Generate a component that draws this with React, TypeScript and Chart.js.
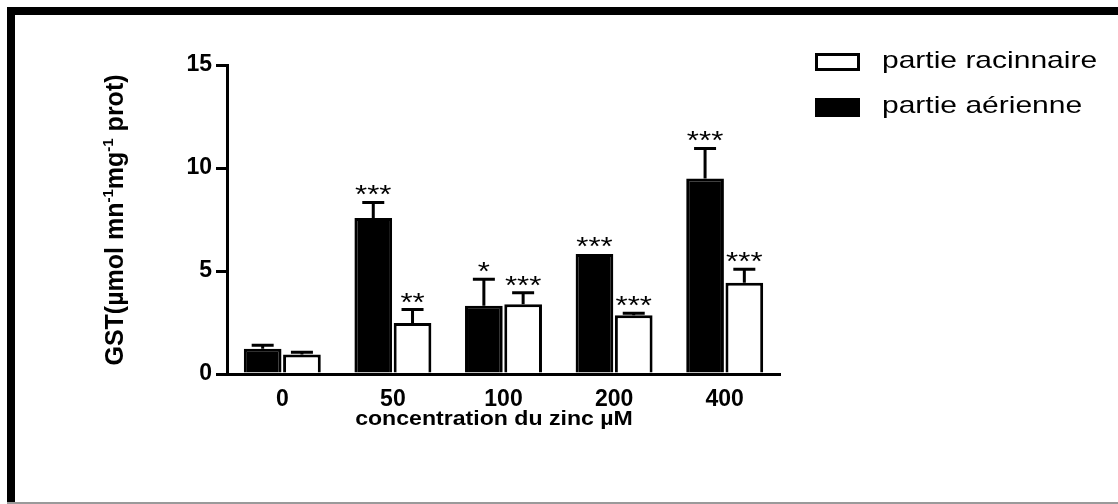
import React, { useEffect, useRef } from "react";
import { Chart, registerables } from "chart.js";

Chart.register(...registerables);

// ---- data ----
const categories = ["0", "50", "100", "200", "400"];
const aerienne = [1.23, 7.57, 3.31, 5.83, 9.49];
const aerienneErr = [0.16, 0.76, 1.29, 0, 1.46];
const racinnaire = [0.95, 2.48, 3.39, 2.85, 4.43];
const racinnaireErr = [0.11, 0.65, 0.55, 0.1, 0.65];
const aerienneStars = ["", "***", "*", "***", "***"];
const racinnaireStars = ["", "**", "***", "***", "***"];
const yTicks = [0, 5, 10, 15];
const legendLabels = ["partie racinnaire", "partie aérienne"];
const xTitle = "concentration du zinc µM";
const yTitleParts = ["GST(µmol mn", "-1", "mg", "-1", " prot)"];
const yTitleSup = [false, true, false, true, false];

const FONT = "'Liberation Sans', Arial, sans-serif";

const decorPlugin = {
  id: "decor",
  beforeDraw(chart: any) {
    const ctx = chart.ctx;
    ctx.save();
    ctx.fillStyle = "#000";
    ctx.fillRect(7, 7, 1111, 8);
    ctx.fillRect(7, 7, 8, 495);
    ctx.fillStyle = "#9a9a9a";
    ctx.fillRect(7, 502, 1111, 2);
    ctx.restore();
  },
  afterDatasetsDraw(chart: any) {
    const ctx = chart.ctx;
    const yScale = chart.scales.y;
    const series = [
      { vals: aerienne, errs: aerienneErr, stars: aerienneStars },
      { vals: racinnaire, errs: racinnaireErr, stars: racinnaireStars },
    ];
    ctx.save();
    series.forEach((s, i) => {
      const meta = chart.getDatasetMeta(i);
      meta.data.forEach((bar: any, j: number) => {
        const x = bar.x;
        const yTop = yScale.getPixelForValue(s.vals[j]);
        const yCap = yScale.getPixelForValue(s.vals[j] + s.errs[j]);
        if (s.errs[j] > 0) {
          ctx.strokeStyle = "#000";
          ctx.lineWidth = 3;
          ctx.beginPath();
          ctx.moveTo(x, yTop);
          ctx.lineTo(x, yCap);
          ctx.moveTo(x - 11, yCap);
          ctx.lineTo(x + 11, yCap);
          ctx.stroke();
        }
        if (s.stars[j]) {
          ctx.save();
          ctx.translate(x, yCap + 1);
          ctx.scale(1.2, 1);
          ctx.fillStyle = "#000";
          ctx.font = `26px ${FONT}`;
          ctx.textAlign = "center";
          ctx.textBaseline = "alphabetic";
          ctx.fillText(s.stars[j], 0, 0);
          ctx.restore();
        }
      });
    });
    ctx.restore();
  },
  afterDraw(chart: any) {
    const ctx = chart.ctx;
    ctx.save();
    // legend
    ctx.lineWidth = 3;
    ctx.strokeStyle = "#000";
    ctx.fillStyle = "#fff";
    ctx.fillRect(816.5, 54.5, 42, 15);
    ctx.strokeRect(816.5, 54.5, 42, 15);
    ctx.fillStyle = "#000";
    ctx.fillRect(815, 98, 45, 19);
    ctx.font = `24px ${FONT}`;
    ctx.textBaseline = "alphabetic";
    ctx.textAlign = "left";
    [68, 113].forEach((by, k) => {
      ctx.save();
      ctx.translate(882, by);
      ctx.scale(1.25, 1);
      ctx.fillText(legendLabels[k], 0, 0);
      ctx.restore();
    });
    // x title
    ctx.save();
    ctx.font = `bold 21px ${FONT}`;
    ctx.textAlign = "center";
    ctx.translate(494, 425);
    ctx.scale(1.1, 1);
    ctx.fillText(xTitle, 0, 0);
    ctx.restore();
    // y title (rotated, with superscripts)
    ctx.save();
    const mainFont = `bold 25px ${FONT}`;
    const supFont = `bold 15px ${FONT}`;
    let total = 0;
    yTitleParts.forEach((p, k) => {
      ctx.font = yTitleSup[k] ? supFont : mainFont;
      total += ctx.measureText(p).width;
    });
    ctx.translate(123, 220);
    ctx.rotate(-Math.PI / 2);
    ctx.textAlign = "left";
    ctx.textBaseline = "alphabetic";
    let cx = -total / 2;
    yTitleParts.forEach((p, k) => {
      ctx.font = yTitleSup[k] ? supFont : mainFont;
      ctx.fillText(p, cx, yTitleSup[k] ? -10 : 0);
      cx += ctx.measureText(p).width;
    });
    ctx.restore();
    ctx.restore();
  },
};

export default function App() {
  const ref = useRef<HTMLCanvasElement>(null);
  useEffect(() => {
    const chart = new Chart(ref.current as HTMLCanvasElement, {
      type: "bar",
      data: {
        labels: categories,
        datasets: [
          {
            label: legendLabels[1],
            data: aerienne,
            backgroundColor: "#000",
            borderColor: "#000",
            borderWidth: 3,
            categoryPercentage: 0.71,
            barPercentage: 0.96,
          },
          {
            label: legendLabels[0],
            data: racinnaire,
            backgroundColor: "#fff",
            borderColor: "#000",
            borderWidth: 3,
            categoryPercentage: 0.71,
            barPercentage: 0.96,
          },
        ],
      },
      options: {
        responsive: false,
        animation: false,
        layout: { padding: { top: 65, left: 120, right: 338, bottom: 90 } },
        plugins: { legend: { display: false }, tooltip: { enabled: false } },
        scales: {
          x: {
            grid: { display: false, drawTicks: false },
            border: { display: true, color: "#000", width: 3 },
            ticks: {
              color: "#000",
              padding: 12,
              font: { family: FONT, size: 23, weight: "bold" },
            },
            afterFit: (s: any) => {
              s.height = 40;
            },
          },
          y: {
            min: 0,
            max: 15,
            afterBuildTicks: (s: any) => {
              s.ticks = yTicks.map((v) => ({ value: v }));
            },
            grid: {
              display: true,
              drawOnChartArea: false,
              drawTicks: true,
              tickLength: 11,
              color: "#000",
              lineWidth: 3,
            },
            border: { display: true, color: "#000", width: 3 },
            ticks: {
              color: "#000",
              padding: 4,
              font: { family: FONT, size: 23, weight: "bold" },
            },
            afterFit: (s: any) => {
              s.width = 107;
            },
          },
        },
      },
      plugins: [decorPlugin],
    } as any);
    return () => chart.destroy();
  }, []);
  return (
    <div
      style={{
        position: "fixed",
        left: 0,
        top: 0,
        width: 1118,
        height: 504,
        background: "#fff",
      }}
    >
      <canvas
        ref={ref}
        width={1118}
        height={504}
        style={{ width: 1118, height: 504, display: "block" }}
      />
    </div>
  );
}
